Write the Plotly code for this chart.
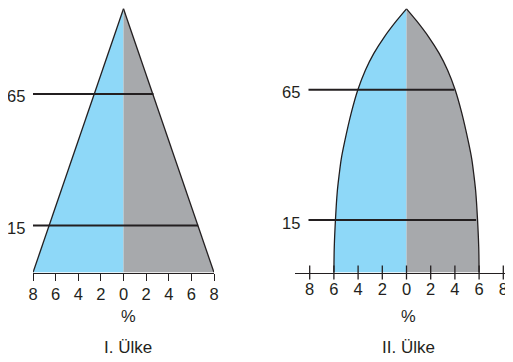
import plotly.graph_objects as go

# shape outlines: height (0 = base, 100 = apex) vs half width in %
heights_1 = [0, 100]
widths_1 = [8, 0]

heights_2 = [0, 9.5, 20.1, 30.7, 36.9, 43.1, 49.4, 60.6, 69.3, 76.8, 83.1, 89.3, 95.5, 100]
widths_2 = [6.0, 5.97, 5.87, 5.72, 5.57, 5.39, 5.12, 4.56, 4.02, 3.39, 2.70, 1.84, 0.82, 0]

# age boundaries: label, height on the shape, where the line stops on the right
age_labels = ["15", "65"]
age_heights_1 = [17.8, 67.7]
age_line_end_1 = [6.6, 2.65]
age_heights_2 = [19.9, 69.3]
age_line_end_2 = [5.75, 3.95]
age_line_start = -8.1

tick_vals = [-8, -6, -4, -2, 0, 2, 4, 6, 8]
tick_text = [str(abs(v)) for v in tick_vals]

titles = ["I. Ülke", "II. Ülke"]

BLUE = "#8ED8F8"
GRAY = "#A7A9AC"
INK = "#231F20"
FONT = "Liberation Sans, Arial, sans-serif"

# the page puts the plot 8px in from the window corner, so the figure is
# made smaller and positions below are given in window pixels
OFF = 8
W, H = 513 - OFF, 362 - OFF


def fx(px):
    return (px - OFF) / W


def fy(py):
    return 1 - (py - OFF) / H


BASE_PY = 272.5
PX_PER_H = (BASE_PY - 8.8) / 100

fig = go.Figure()


def add_country(heights, widths, xa, ya, spline):
    shape = "spline" if spline else "linear"
    left = [-w for w in widths]
    fig.add_trace(go.Scatter(x=left, y=heights, mode="lines", fill="tozerox",
                             fillcolor=BLUE, line=dict(color=INK, width=1.3, shape=shape),
                             xaxis=xa, yaxis=ya, hoverinfo="skip"))
    fig.add_trace(go.Scatter(x=widths, y=heights, mode="lines", fill="tozerox",
                             fillcolor=GRAY, line=dict(color=INK, width=1.3, shape=shape),
                             xaxis=xa, yaxis=ya, hoverinfo="skip"))


def add_age_lines(heights, ends, xa, ya):
    for h, e in zip(heights, ends):
        fig.add_trace(go.Scatter(x=[age_line_start, e], y=[h, h], mode="lines",
                                 line=dict(color=INK, width=2), xaxis=xa, yaxis=ya,
                                 hoverinfo="skip"))


add_country(heights_1, widths_1, "x", "y", False)
add_age_lines(age_heights_1, age_line_end_1, "x", "y")
add_country(heights_2, widths_2, "x2", "y2", True)
add_age_lines(age_heights_2, age_line_end_2, "x2", "y2")

# tick marks crossing the axis line of the second chart
fig.add_trace(go.Scatter(x=tick_vals, y=[0] * len(tick_vals), mode="markers",
                         marker=dict(symbol="line-ns", size=10, line=dict(color=INK, width=1.3)),
                         cliponaxis=False, xaxis="x2", yaxis="y2", hoverinfo="skip"))

txt = dict(size=16.5, color=INK, family=FONT)
title_txt = dict(size=17, color=INK, family=FONT)
annotations = []
for lab, h in zip(age_labels, age_heights_1):
    annotations.append(dict(x=-8, y=h, xref="x", yref="y", text=lab, showarrow=False,
                            xanchor="right", yanchor="middle", xshift=-6, yshift=-2.5,
                            font=txt))
for lab, h in zip(age_labels, age_heights_2):
    annotations.append(dict(x=age_line_start, y=h, xref="x2", yref="y2", text=lab,
                            showarrow=False, xanchor="right", yanchor="middle",
                            xshift=-6, yshift=-2.5, font=txt))
for xr, xc, title in [("x", 0.4, titles[0]), ("x2", 0.15, titles[1])]:
    annotations.append(dict(x=xc, y=fy(316), xref=xr, yref="paper", text="%",
                            showarrow=False, yanchor="middle", font=txt))
    annotations.append(dict(x=xc, y=fy(347.5), xref=xr, yref="paper", text=title,
                            showarrow=False, yanchor="middle", font=title_txt))

y_dom = [fy(BASE_PY), 1]
y_rng = [0, (BASE_PY - OFF) / PX_PER_H]

fig.update_layout(
    width=W, height=H,
    margin=dict(l=0, r=0, t=0, b=0, autoexpand=False),
    paper_bgcolor="white", plot_bgcolor="rgba(0,0,0,0)",
    showlegend=False,
    annotations=annotations,
    xaxis=dict(domain=[fx(33), fx(214)], range=[-8, 8], tickvals=tick_vals,
               ticktext=tick_text, ticks="outside", ticklen=7, tickwidth=1.3,
               tickcolor=INK, showline=True, linecolor=INK, linewidth=1.3,
               showgrid=False, zeroline=False, tickfont=txt, anchor="y",
               automargin=False),
    yaxis=dict(domain=y_dom, range=y_rng, visible=False, anchor="x", automargin=False),
    xaxis2=dict(domain=[fx(295), 1], range=[(295 - 406.5) / 12.1, (513 - 406.5) / 12.1],
                tickvals=tick_vals, ticktext=tick_text, ticks="",
                showline=True, linecolor=INK, linewidth=1.3, ticklabelstandoff=2,
                showgrid=False, zeroline=False, tickfont=txt, anchor="y2",
                automargin=False),
    yaxis2=dict(domain=y_dom, range=y_rng, visible=False, anchor="x2", automargin=False),
)

fig.write_html("out.html")
